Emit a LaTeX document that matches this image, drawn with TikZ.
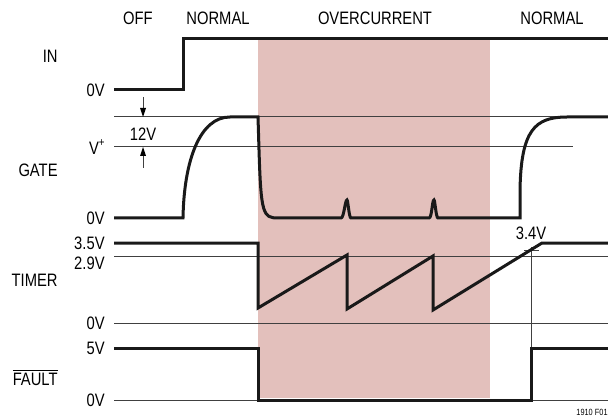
\documentclass[tikz,border=0pt]{standalone}
\usepackage{fontspec}
\setmainfont[FakeStretch=0.82]{Liberation Sans}
\usepackage{xcolor}
\usetikzlibrary{positioning}
\definecolor{ocpink}{RGB}{227,192,188}

\begin{document}
\begin{tikzpicture}[x=0.5pt,y=0.5pt]
    \tikzstyle{every node}+=[inner sep=0pt, font=\fontsize{9}{11}\selectfont]
    \tikzstyle{wave}=[line width=1.5pt, black!90]
    \tikzstyle{level}=[line width=0.5pt, black!75]
    \useasboundingbox (0,0) rectangle (608,-416);
    % overcurrent band
    \fill [ocpink] (258,-40) rectangle (490,-398);
    % phase labels
    \node (off) at (138,-18) {OFF};
    \node (norm1) at (218,-18) {NORMAL};
    \node (ocur) at (375,-18) {OVERCURRENT};
    \node (norm2) at (552,-18) {NORMAL};
    % signal names
    \node [anchor=east] (sigin) at (58,-56) {IN};
    \node [anchor=east] (siggate) at (58,-170) {GATE};
    \node [anchor=east] (sigtimer) at (58,-280) {TIMER};
    \node [anchor=east] (sigfault) at (58,-377) {$\overline{\hbox{FAULT}}$};
    % level labels
    \node [anchor=east] (in0) at (105,-90) {0V};
    \node [anchor=east] (gvp) at (106,-147) {V\textsuperscript{+}};
    \node [anchor=east] (g0) at (105,-218) {0V};
    \node [anchor=east] (t35) at (105,-243) {3.5V};
    \node [anchor=east] (t29) at (105,-263) {2.9V};
    \node [anchor=east] (t0) at (105,-323) {0V};
    \node [anchor=east] (f5) at (105,-348) {5V};
    \node [anchor=east] (f0) at (105,-400) {0V};
    \node (twelve) at (143,-134) {12V};
    \node (t34) at (531,-233) {3.4V};
    \node [anchor=south east, font=\fontsize{4.5}{5}\selectfont] (fig) at (608,-416) {1910 F01};
    % thin reference lines
    \draw [level] (114,-117) -- (608,-117);
    \draw [level] (114,-147) -- (573,-147);
    \draw [level] (114,-256) -- (608,-256);
    \draw [level] (114,-323) -- (608,-323);
    \draw [level] (114,-400) -- (608,-400);
    \draw [level] (531,-247) -- (531,-400);
    \draw [level] (524,-250) -- (539,-250);
    % 12V arrows
    \draw [level] (143,-97) -- (143,-110);
    \fill [black] (143,-117) -- (140,-108) -- (146,-108);
    \draw [level] (143,-168) -- (143,-154);
    \fill [black] (143,-147) -- (140,-156) -- (146,-156);
    % IN
    \draw [wave] (114,-90) -- (183,-90) -- (183,-39) -- (608,-39);
    % GATE
    \draw [wave] (114,-218) -- (183,-218) .. controls (184,-160) and (200,-117) .. (230,-117)
        -- (258,-117) -- (259,-150) .. controls (261,-214) and (263,-218) .. (278,-218)
        -- (341,-218) .. controls (344,-218) and (345,-200) .. (347,-200)
        .. controls (348,-200) and (349,-218) .. (351,-218)
        -- (429,-218) .. controls (432,-218) and (432,-200) .. (434,-200)
        .. controls (435,-200) and (436,-218) .. (438,-218)
        -- (520,-218) -- (520,-190) .. controls (521,-130) and (535,-117) .. (567,-117)
        -- (608,-117);
    % TIMER
    \draw [wave] (114,-243) -- (258,-243) -- (258,-308) -- (347,-255) -- (347,-309)
        -- (433,-256) -- (433,-310) -- (542,-243) -- (608,-243);
    % FAULT
    \draw [wave] (114,-348) -- (258,-348) -- (258,-400) -- (531,-400) -- (531,-348) -- (608,-348);
\end{tikzpicture}
\end{document}
